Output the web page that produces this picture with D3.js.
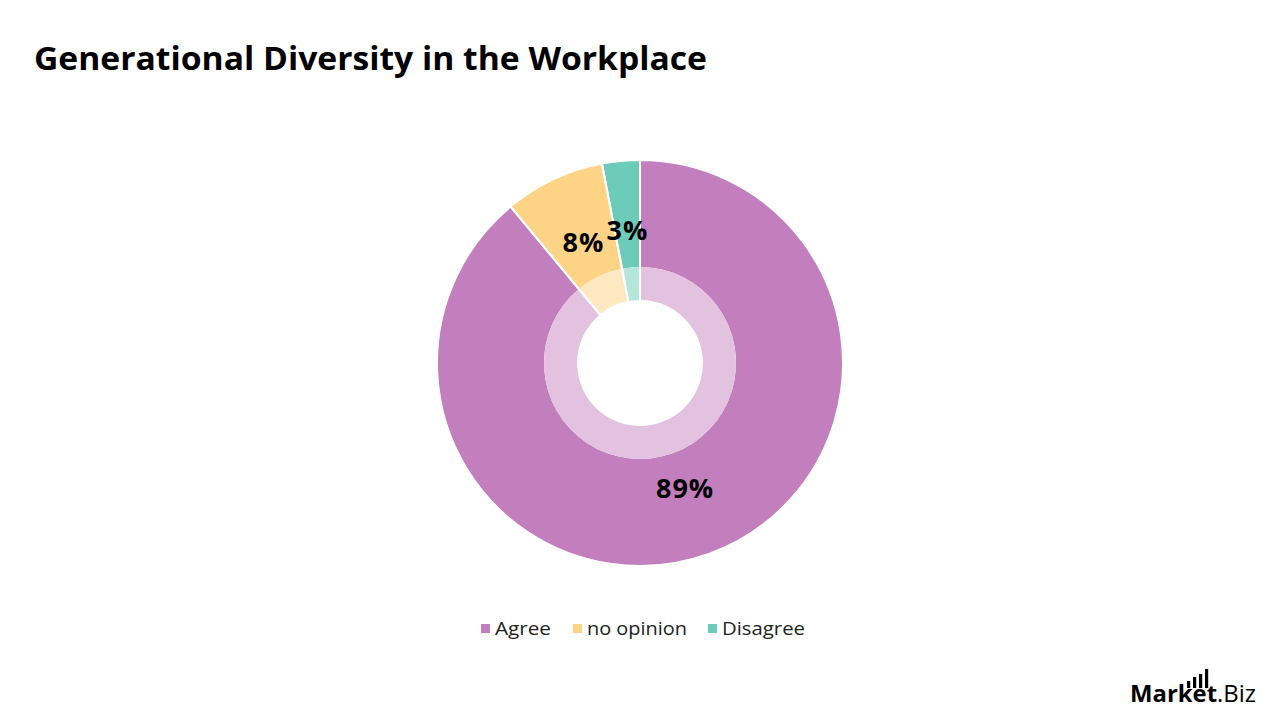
<!DOCTYPE html>
<html>
<head>
<meta charset="utf-8">
<script src="https://cdn.jsdelivr.net/npm/d3@7"></script>
<style>
  body { margin: 0; background: #fff; }
  svg { font-family: "Open Sans", "Noto Sans", sans-serif; }
</style>
</head>
<body>
<div id="chartArea"></div>
<script>
// data
var categories = ["Agree", "no opinion", "Disagree"];
var values = [89, 8, 3];
var labels = ["89%", "8%", "3%"];
var colors = ["#C37EBD", "#FDD386", "#6CCCB9"];
var lightColors = ["#E3C2DF", "#FEE8C2", "#B4E6DC"];

var width = 1280, height = 720;
var cx = 640, cy = 363;

var svg = d3.select("#chartArea").append("svg")
  .attr("width", width).attr("height", height);

svg.append("text")
  .attr("x", 34).attr("y", 70)
  .attr("font-size", 32).attr("font-weight", 700)
  .attr("textLength", 673).attr("lengthAdjust", "spacingAndGlyphs")
  .attr("fill", "#000")
  .text("Generational Diversity in the Workplace");

var data = categories.map(function(c, i){ return { name: c, value: values[i], label: labels[i], i: i }; });

var pie = d3.pie().sort(null).value(function(d){ return d.value; });
var arcs = pie(data);

var outerArc = d3.arc().innerRadius(96).outerRadius(203);
var innerArc = d3.arc().innerRadius(62).outerRadius(96);
var labelArc = d3.arc().innerRadius(133).outerRadius(133);

var g = svg.append("g").attr("transform", "translate(" + cx + "," + cy + ")");

g.selectAll("path.outer").data(arcs).enter().append("path")
  .attr("class", "outer")
  .attr("d", outerArc)
  .attr("fill", function(d){ return colors[d.data.i]; });

g.selectAll("path.inner").data(arcs).enter().append("path")
  .attr("class", "inner")
  .attr("d", innerArc)
  .attr("fill", function(d){ return lightColors[d.data.i]; });

// white separators
g.selectAll("path.sep").data(arcs).enter().append("path")
  .attr("class", "sep")
  .attr("d", d3.arc().innerRadius(62).outerRadius(203))
  .attr("fill", "none")
  .attr("stroke", "#fff")
  .attr("stroke-width", 2);

g.selectAll("text.lbl").data(arcs).enter().append("text")
  .attr("class", "lbl")
  .attr("transform", function(d){ return "translate(" + labelArc.centroid(d) + ")"; })
  .attr("text-anchor", "middle")
  .attr("dy", "0.35em")
  .attr("font-size", 27).attr("font-weight", 700)
  .attr("letter-spacing", 1)
  .attr("fill", "#000")
  .text(function(d){ return d.data.label; });

// legend
var legendX = [481, 573, 708];
var legendW = [56, 100, 83];
var lg = svg.append("g");
categories.forEach(function(c, i){
  lg.append("rect")
    .attr("x", legendX[i]).attr("y", 624)
    .attr("width", 9).attr("height", 9)
    .attr("fill", colors[i]);
  lg.append("text")
    .attr("x", legendX[i] + 14).attr("y", 634.5)
    .attr("font-size", 18.5).attr("fill", "#222")
    .attr("textLength", legendW[i]).attr("lengthAdjust", "spacingAndGlyphs")
    .text(c);
});

// logo
var logo = svg.append("g");
var barH = [7, 11, 14, 19];
barH.forEach(function(h, i){
  logo.append("rect")
    .attr("x", 1187 + i * 6).attr("y", 688 - h)
    .attr("width", 3.2).attr("height", h)
    .attr("fill", "#000");
});
var lt = logo.append("text")
  .attr("x", 1130).attr("y", 702)
  .attr("font-size", 23).attr("fill", "#000")
  .attr("textLength", 126).attr("lengthAdjust", "spacingAndGlyphs");
lt.append("tspan").attr("font-weight", 700).text("Market");
lt.append("tspan").attr("font-weight", 400).text(".Biz");
</script>
</body>
</html>
